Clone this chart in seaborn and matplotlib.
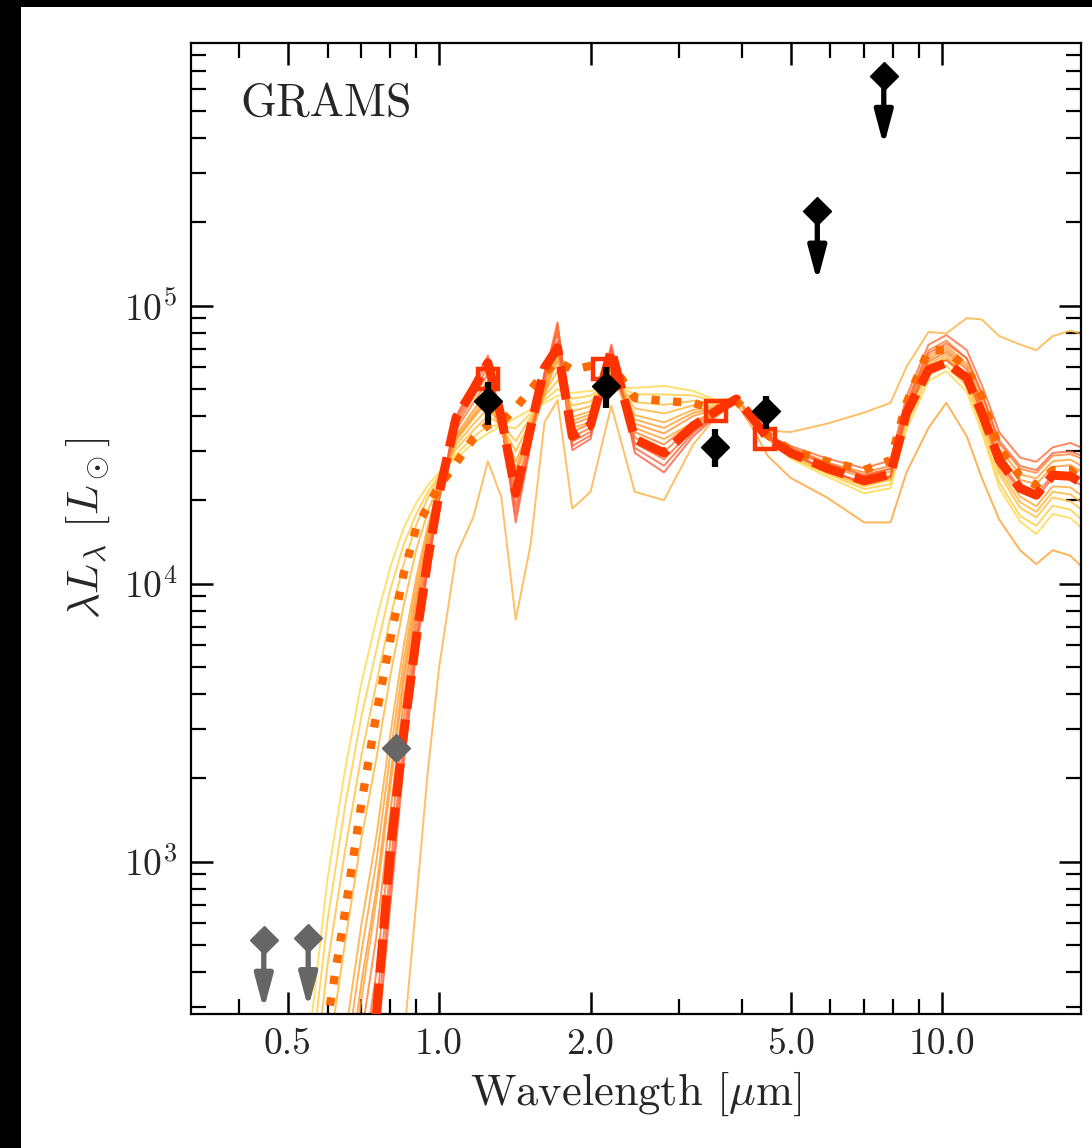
import numpy as np
import pandas as pd
import matplotlib
matplotlib.use("Agg")
import matplotlib.pyplot as plt
import seaborn as sns
from matplotlib.patches import Rectangle
from matplotlib.ticker import FixedLocator, FixedFormatter, NullFormatter

# ---------------- data (log10 of lambda*L_lambda in L_sun) ----------------
wavelength = [0.55, 0.60, 0.65, 0.70, 0.75, 0.80, 0.85, 0.90, 0.95, 1.00,
              1.08, 1.17, 1.25, 1.33, 1.42, 1.52, 1.62, 1.72, 1.84, 2.00,
              2.20, 2.45, 2.80, 3.20, 3.55, 3.90,
              4.20, 4.50, 5.00, 5.90, 7.00, 7.90, 8.50, 9.40, 10.2, 11.2,
              12.0, 13.0, 14.3, 15.4, 16.6, 18.0, 19.5]

model_0 = [2.34, 2.94, 3.33, 3.64, 3.87, 4.06, 4.20, 4.29, 4.354, 4.40,
           4.45, 4.505, 4.54, 4.567, 4.596, 4.625, 4.65, 4.675, 4.686, 4.693,
           4.704, 4.704, 4.711, 4.693, 4.66, 4.668,
           4.596, 4.523, 4.45, 4.385, 4.325, 4.343, 4.554, 4.729, 4.764, 4.69,
           4.544, 4.344, 4.223, 4.178, 4.25, 4.236, 4.18]
model_1 = [2.20, 2.79, 3.20, 3.52, 3.76, 3.98, 4.14, 4.25, 4.33, 4.39,
           4.465, 4.527, 4.568, 4.568, 4.558, 4.612, 4.661, 4.70, 4.665, 4.676,
           4.72, 4.681, 4.68, 4.677, 4.654, 4.667,
           4.596, 4.523, 4.455, 4.395, 4.34, 4.358, 4.574, 4.749, 4.784, 4.71,
           4.564, 4.364, 4.243, 4.208, 4.28, 4.266, 4.21]
model_2 = [2.03, 2.63, 3.04, 3.38, 3.64, 3.88, 4.07, 4.21, 4.31, 4.38,
           4.483, 4.552, 4.602, 4.570, 4.513, 4.598, 4.674, 4.73, 4.641, 4.655,
           4.738, 4.653, 4.643, 4.657, 4.647, 4.666,
           4.596, 4.523, 4.46, 4.40, 4.35, 4.373, 4.594, 4.769, 4.804, 4.73,
           4.584, 4.394, 4.273, 4.238, 4.31, 4.296, 4.25]
model_2b = [1.68, 2.28, 2.71, 3.08, 3.37, 3.67, 3.92, 4.12, 4.26, 4.365,
            4.498, 4.574, 4.63, 4.571, 4.476, 4.585, 4.685, 4.765, 4.62, 4.638,
            4.754, 4.63, 4.612, 4.641, 4.641, 4.666,
            4.596, 4.523, 4.465, 4.405, 4.355, 4.378, 4.604, 4.779, 4.814, 4.74,
            4.599, 4.409, 4.293, 4.258, 4.33, 4.321, 4.275]
model_3 = [1.32, 1.92, 2.37, 2.77, 3.09, 3.46, 3.775, 4.02, 4.21, 4.35,
           4.513, 4.595, 4.658, 4.572, 4.438, 4.572, 4.696, 4.80, 4.599, 4.62,
           4.77, 4.606, 4.58, 4.625, 4.635, 4.665,
           4.596, 4.523, 4.47, 4.41, 4.36, 4.383, 4.614, 4.789, 4.824, 4.75,
           4.614, 4.424, 4.313, 4.278, 4.35, 4.346, 4.30]
model_3b = [1.20, 1.80, 2.26, 2.67, 3.00, 3.39, 3.72, 3.99, 4.19, 4.345,
            4.523, 4.609, 4.676, 4.573, 4.414, 4.564, 4.704, 4.83, 4.586, 4.609,
            4.78, 4.59, 4.56, 4.614, 4.631, 4.665,
            4.596, 4.528, 4.485, 4.435, 4.39, 4.413, 4.644, 4.819, 4.854, 4.79,
            4.664, 4.484, 4.393, 4.378, 4.44, 4.446, 4.41]
model_4 = [1.08, 1.67, 2.14, 2.56, 2.90, 3.31, 3.67, 3.955, 4.17, 4.34,
           4.533, 4.623, 4.694, 4.574, 4.389, 4.556, 4.711, 4.86, 4.573, 4.598,
           4.79, 4.575, 4.54, 4.603, 4.627, 4.664,
           4.596, 4.528, 4.48, 4.425, 4.38, 4.403, 4.634, 4.809, 4.844, 4.78,
           4.644, 4.464, 4.373, 4.358, 4.42, 4.426, 4.39]
model_5 = [0.85, 1.45, 1.92, 2.37, 2.73, 3.18, 3.58, 3.90, 4.14, 4.33,
           4.552, 4.651, 4.730, 4.576, 4.340, 4.540, 4.725, 4.92, 4.546, 4.575,
           4.81, 4.545, 4.50, 4.582, 4.619, 4.663,
           4.596, 4.533, 4.49, 4.435, 4.40, 4.423, 4.654, 4.839, 4.874, 4.81,
           4.684, 4.504, 4.413, 4.398, 4.46, 4.466, 4.44]
model_5b = [0.68, 1.28, 1.76, 2.23, 2.60, 3.08, 3.51, 3.855, 4.115, 4.32,
            4.565, 4.67, 4.754, 4.577, 4.308, 4.53, 4.735, 4.93, 4.528, 4.56,
            4.824, 4.525, 4.474, 4.568, 4.614, 4.662,
            4.596, 4.528, 4.47, 4.41, 4.36, 4.388, 4.624, 4.799, 4.834, 4.77,
            4.634, 4.444, 4.343, 4.323, 4.39, 4.396, 4.36]
model_6 = [0.52, 1.12, 1.61, 2.09, 2.47, 2.98, 3.44, 3.81, 4.09, 4.31,
           4.578, 4.688, 4.778, 4.578, 4.276, 4.519, 4.744, 4.94, 4.511, 4.546,
           4.837, 4.505, 4.447, 4.554, 4.609, 4.661,
           4.596, 4.533, 4.495, 4.45, 4.415, 4.443, 4.674, 4.859, 4.894, 4.84,
           4.714, 4.544, 4.453, 4.438, 4.49, 4.506, 4.48]
model_6b = [0.41, 1.01, 1.50, 2.00, 2.38, 2.91, 3.40, 3.78, 4.075, 4.305,
            4.59, 4.704, 4.80, 4.579, 4.248, 4.51, 4.752, 4.90, 4.495, 4.533,
            4.85, 4.488, 4.424, 4.542, 4.605, 4.66,
            4.596, 4.528, 4.48, 4.43, 4.39, 4.413, 4.644, 4.829, 4.864, 4.81,
            4.684, 4.514, 4.423, 4.408, 4.47, 4.476, 4.45]
model_7 = [0.30, 0.90, 1.40, 1.90, 2.30, 2.85, 3.35, 3.75, 4.06, 4.30,
           4.60, 4.72, 4.82, 4.58, 4.22, 4.50, 4.76, 4.87, 4.48, 4.52,
           4.86, 4.47, 4.40, 4.53, 4.60, 4.66,
           4.596, 4.523, 4.465, 4.41, 4.36, 4.383, 4.614, 4.779, 4.804, 4.75,
           4.614, 4.434, 4.333, 4.308, 4.38, 4.376, 4.34]
model_8 = [0.0, 0.0, 0.3, 0.8, 1.3, 1.8, 2.35, 2.85, 3.33, 3.70,
           4.10, 4.24, 4.44, 4.31, 3.87, 4.14, 4.58, 4.66, 4.27, 4.33,
           4.64, 4.33, 4.30, 4.50, 4.60, 4.66,
           4.60, 4.55, 4.545, 4.575, 4.615, 4.65, 4.78, 4.905, 4.90, 4.955,
           4.95, 4.89, 4.86, 4.84, 4.89, 4.91, 4.89]
model_9 = [1.0, 1.6, 2.08, 2.5, 2.86, 3.27, 3.64, 3.93, 4.15, 4.32,
           4.52, 4.60, 4.66, 4.55, 4.40, 4.53, 4.68, 4.82, 4.56, 4.58,
           4.76, 4.56, 4.52, 4.58, 4.61, 4.65,
           4.56, 4.46, 4.38, 4.31, 4.22, 4.22, 4.40, 4.56, 4.65, 4.53,
           4.38, 4.23, 4.12, 4.07, 4.12, 4.10, 4.04]
model_colors = ["#FFD84A", "#FFCC40", "#FFBE3A", "#FFB436", "#FFA832",
                "#FF9E31", "#FF9530", "#FF8030", "#FF7532", "#FF6A35",
                "#FF6238", "#FF5A3A", "#FFB040", "#FFA030"]

best_fit = [0.5, 1.0, 1.4, 1.85, 2.45, 3.04, 3.46, 3.80, 4.09, 4.325,
            4.596, 4.70, 4.794, 4.596, 4.325, 4.56, 4.776, 4.848, 4.53, 4.57,
            4.84, 4.52, 4.47, 4.567, 4.62, 4.664,
            4.596, 4.523, 4.47, 4.415, 4.37, 4.393, 4.614, 4.769, 4.794, 4.74,
            4.614, 4.444, 4.343, 4.318, 4.39, 4.386, 4.35]
second_fit = [2.10, 2.43, 2.82, 3.206, 3.53, 3.80, 4.036, 4.20, 4.278, 4.35,
              4.433, 4.523, 4.57, 4.58, 4.632, 4.697, 4.758, 4.80, 4.769, 4.783,
              4.79, 4.668, 4.657, 4.65, 4.625, 4.657,
              4.60, 4.534, 4.48, 4.44, 4.408, 4.444, 4.65, 4.84, 4.84, 4.776,
              4.668, 4.487, 4.386, 4.354, 4.408, 4.408, 4.35]

obs_wave = [1.25, 2.15, 3.53, 4.46]
obs_lum = [45200, 51500, 31100, 41600]
obs_err = [8000, 8700, 4900, 5600]
synth_wave = [1.25, 2.12, 3.56, 4.44]
synth_lum = [54500, 58900, 41600, 33000]
ulim_wave = [5.65, 7.66]
ulim_lum = [218000, 671000]
grey_ulim_wave = [0.448, 0.549]
grey_ulim_lum = [524, 531]
grey_wave = [0.820]
grey_lum = [2560]

xtick_vals = [0.5, 1.0, 2.0, 5.0, 10.0]
xtick_labels = ["0.5", "1.0", "2.0", "5.0", "10.0"]
ytick_vals = [1e3, 1e4, 1e5]
ytick_labels = [r"$10^{3}$", r"$10^{4}$", r"$10^{5}$"]

# ---------------- style ----------------
sns.set_theme(style="ticks")
plt.rcParams.update({
    "font.family": "serif",
    "font.serif": ["cmr10", "DejaVu Serif"],
    "mathtext.fontset": "cm",
    "axes.formatter.use_mathtext": True,
    "axes.unicode_minus": False,
})

fig = plt.figure(figsize=(10.92, 11.48), dpi=100)
fig.patch.set_facecolor("black")
fig.add_artist(Rectangle((21 / 1092, 0), 1, 1 - 7 / 1148, transform=fig.transFigure,
                         facecolor="white", edgecolor="none", zorder=-10))
ax = fig.add_axes([191 / 1092, 1 - 1014 / 1148, 890 / 1092, 971 / 1148])
ax.set_xscale("log")
ax.set_yscale("log")

models = [model_0, model_1, model_2, model_2b, model_3, model_3b, model_4,
          model_5, model_5b, model_6, model_6b, model_7, model_8, model_9]
frames = []
for i, m in enumerate(models):
    frames.append(pd.DataFrame({"wavelength": wavelength,
                                "L": 10 ** np.array(m, dtype=float),
                                "model": f"m{i:02d}"}))
df = pd.concat(frames, ignore_index=True)
sns.lineplot(data=df, x="wavelength", y="L", hue="model",
             palette=model_colors, estimator=None, sort=False,
             lw=1.4, alpha=0.8, legend=False, ax=ax, zorder=1)

sns.lineplot(x=wavelength, y=10 ** np.array(second_fit), color="#FF6A00",
             lw=6.0, ls=(0, (1.0, 1.6)), estimator=None, sort=False, ax=ax, zorder=2)
sns.lineplot(x=wavelength, y=10 ** np.array(best_fit), color="#FF3300",
             lw=6.5, ls=(0, (3.7, 1.2)), estimator=None, sort=False, ax=ax, zorder=3)

ax.plot(synth_wave, synth_lum, ls="none", marker="s", ms=14, mfc="none",
        mec="#FF3300", mew=3.2, zorder=4)

ax.errorbar(obs_wave, obs_lum, yerr=obs_err, fmt="D", ms=14.5, color="black",
            elinewidth=4.5, capsize=0, zorder=6)

def uplim(xs, ys, col):
    for xv, yv in zip(xs, ys):
        ax.annotate("", xy=(xv, yv * 10 ** -0.252), xytext=(xv, yv),
                    arrowprops=dict(arrowstyle="-|>,head_length=0.75,head_width=0.2",
                                    color=col, lw=3.8, shrinkA=0, shrinkB=0,
                                    mutation_scale=27), zorder=5)
        ax.plot([xv], [yv], ls="none", marker="D", ms=14.5, color=col, zorder=6)

uplim(ulim_wave, ulim_lum, "black")
uplim(grey_ulim_wave, grey_ulim_lum, "#666666")
ax.plot(grey_wave, grey_lum, ls="none", marker="D", ms=14.5, color="#666666", zorder=6)

ax.set_xlim(0.321, 18.9)
ax.set_ylim(283, 8.8e5)

ax.xaxis.set_major_locator(FixedLocator(xtick_vals))
ax.xaxis.set_major_formatter(FixedFormatter(xtick_labels))
ax.xaxis.set_minor_locator(FixedLocator([0.4, 0.6, 0.7, 0.8, 0.9, 3, 4, 6, 7, 8, 9]))
ax.xaxis.set_minor_formatter(NullFormatter())
ax.yaxis.set_major_locator(FixedLocator(ytick_vals))
ax.yaxis.set_major_formatter(FixedFormatter(ytick_labels))
yminor = [m * 10 ** e for e in (2, 3, 4, 5) for m in range(2, 10)]
ax.yaxis.set_minor_locator(FixedLocator(yminor))
ax.yaxis.set_minor_formatter(NullFormatter())

ax.tick_params(which="both", direction="in", top=True, right=True, color="black")
ax.tick_params(which="major", length=16, width=1.8, labelsize=27, pad=10)
ax.tick_params(which="minor", length=10.5, width=1.6)
for s in ax.spines.values():
    s.set_linewidth(1.6)
    s.set_color("black")

ax.set_xlabel(r"Wavelength [$\mu$m]", fontsize=32, labelpad=6)
ax.set_ylabel(r"$\lambda L_\lambda$ [$L_\odot$]", fontsize=32, labelpad=8)
ax.text(0.055, 0.925, "GRAMS", transform=ax.transAxes, fontsize=33,
        va="baseline", ha="left")

fig.savefig("out.png", dpi=100, facecolor=fig.get_facecolor())
